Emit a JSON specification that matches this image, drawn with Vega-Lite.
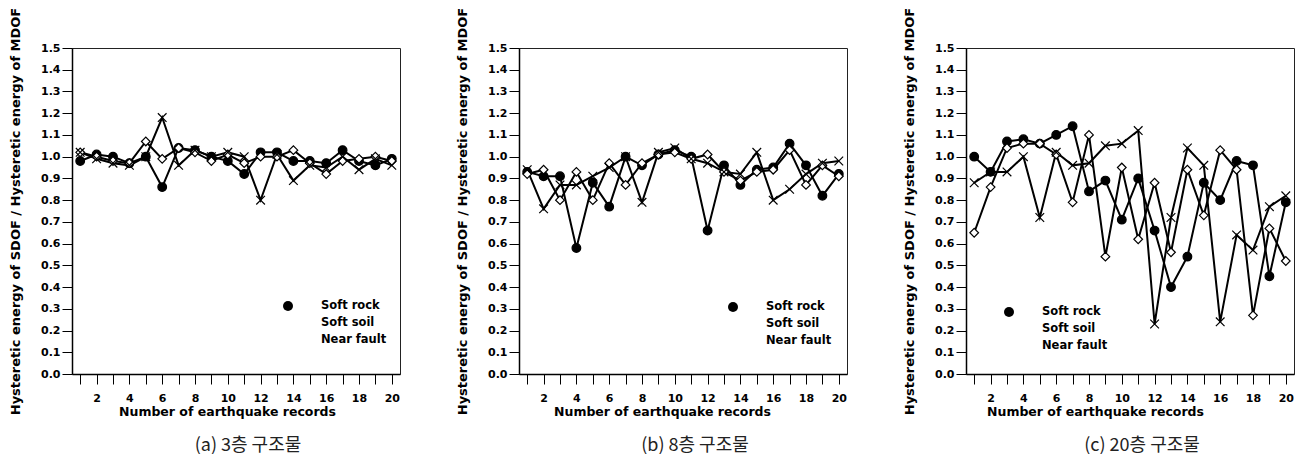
{
  "$schema": "https://vega.github.io/schema/vega-lite/v6.json",
  "padding": {"left": 9, "top": 6, "right": 2, "bottom": 0},
  "background": "white",
  "spacing": 55,
  "datasets": {
    "a": [
      {"record":1,"series":"Soft rock","ratio":0.98},{"record":2,"series":"Soft rock","ratio":1.01},{"record":3,"series":"Soft rock","ratio":1.00},{"record":4,"series":"Soft rock","ratio":0.97},{"record":5,"series":"Soft rock","ratio":1.00},
      {"record":6,"series":"Soft rock","ratio":0.86},{"record":7,"series":"Soft rock","ratio":1.04},{"record":8,"series":"Soft rock","ratio":1.03},{"record":9,"series":"Soft rock","ratio":1.00},{"record":10,"series":"Soft rock","ratio":0.98},
      {"record":11,"series":"Soft rock","ratio":0.92},{"record":12,"series":"Soft rock","ratio":1.02},{"record":13,"series":"Soft rock","ratio":1.02},{"record":14,"series":"Soft rock","ratio":0.98},{"record":15,"series":"Soft rock","ratio":0.98},
      {"record":16,"series":"Soft rock","ratio":0.97},{"record":17,"series":"Soft rock","ratio":1.03},{"record":18,"series":"Soft rock","ratio":0.98},{"record":19,"series":"Soft rock","ratio":0.96},{"record":20,"series":"Soft rock","ratio":0.99},
      {"record":1,"series":"Soft soil","ratio":1.02},{"record":2,"series":"Soft soil","ratio":1.00},{"record":3,"series":"Soft soil","ratio":0.98},{"record":4,"series":"Soft soil","ratio":0.97},{"record":5,"series":"Soft soil","ratio":1.07},
      {"record":6,"series":"Soft soil","ratio":0.99},{"record":7,"series":"Soft soil","ratio":1.04},{"record":8,"series":"Soft soil","ratio":1.02},{"record":9,"series":"Soft soil","ratio":0.98},{"record":10,"series":"Soft soil","ratio":1.01},
      {"record":11,"series":"Soft soil","ratio":0.97},{"record":12,"series":"Soft soil","ratio":1.00},{"record":13,"series":"Soft soil","ratio":1.00},{"record":14,"series":"Soft soil","ratio":1.03},{"record":15,"series":"Soft soil","ratio":0.97},
      {"record":16,"series":"Soft soil","ratio":0.92},{"record":17,"series":"Soft soil","ratio":0.98},{"record":18,"series":"Soft soil","ratio":0.99},{"record":19,"series":"Soft soil","ratio":1.00},{"record":20,"series":"Soft soil","ratio":0.98},
      {"record":1,"series":"Near fault","ratio":1.02},{"record":2,"series":"Near fault","ratio":0.99},{"record":3,"series":"Near fault","ratio":0.97},{"record":4,"series":"Near fault","ratio":0.96},{"record":5,"series":"Near fault","ratio":1.00},
      {"record":6,"series":"Near fault","ratio":1.18},{"record":7,"series":"Near fault","ratio":0.96},{"record":8,"series":"Near fault","ratio":1.03},{"record":9,"series":"Near fault","ratio":1.00},{"record":10,"series":"Near fault","ratio":1.02},
      {"record":11,"series":"Near fault","ratio":1.00},{"record":12,"series":"Near fault","ratio":0.80},{"record":13,"series":"Near fault","ratio":1.01},{"record":14,"series":"Near fault","ratio":0.89},{"record":15,"series":"Near fault","ratio":0.96},
      {"record":16,"series":"Near fault","ratio":0.95},{"record":17,"series":"Near fault","ratio":1.00},{"record":18,"series":"Near fault","ratio":0.94},{"record":19,"series":"Near fault","ratio":0.99},{"record":20,"series":"Near fault","ratio":0.96}
    ],
    "b": [
      {"record":1,"series":"Soft rock","ratio":0.93},{"record":2,"series":"Soft rock","ratio":0.91},{"record":3,"series":"Soft rock","ratio":0.91},{"record":4,"series":"Soft rock","ratio":0.58},{"record":5,"series":"Soft rock","ratio":0.88},
      {"record":6,"series":"Soft rock","ratio":0.77},{"record":7,"series":"Soft rock","ratio":1.00},{"record":8,"series":"Soft rock","ratio":0.96},{"record":9,"series":"Soft rock","ratio":1.01},{"record":10,"series":"Soft rock","ratio":1.03},
      {"record":11,"series":"Soft rock","ratio":1.00},{"record":12,"series":"Soft rock","ratio":0.66},{"record":13,"series":"Soft rock","ratio":0.96},{"record":14,"series":"Soft rock","ratio":0.87},{"record":15,"series":"Soft rock","ratio":0.94},
      {"record":16,"series":"Soft rock","ratio":0.95},{"record":17,"series":"Soft rock","ratio":1.06},{"record":18,"series":"Soft rock","ratio":0.96},{"record":19,"series":"Soft rock","ratio":0.82},{"record":20,"series":"Soft rock","ratio":0.92},
      {"record":1,"series":"Soft soil","ratio":0.92},{"record":2,"series":"Soft soil","ratio":0.94},{"record":3,"series":"Soft soil","ratio":0.80},{"record":4,"series":"Soft soil","ratio":0.93},{"record":5,"series":"Soft soil","ratio":0.80},
      {"record":6,"series":"Soft soil","ratio":0.97},{"record":7,"series":"Soft soil","ratio":0.87},{"record":8,"series":"Soft soil","ratio":0.97},{"record":9,"series":"Soft soil","ratio":1.01},{"record":10,"series":"Soft soil","ratio":1.02},
      {"record":11,"series":"Soft soil","ratio":0.99},{"record":12,"series":"Soft soil","ratio":1.01},{"record":13,"series":"Soft soil","ratio":0.93},{"record":14,"series":"Soft soil","ratio":0.89},{"record":15,"series":"Soft soil","ratio":0.93},
      {"record":16,"series":"Soft soil","ratio":0.94},{"record":17,"series":"Soft soil","ratio":1.03},{"record":18,"series":"Soft soil","ratio":0.87},{"record":19,"series":"Soft soil","ratio":0.96},{"record":20,"series":"Soft soil","ratio":0.91},
      {"record":1,"series":"Near fault","ratio":0.94},{"record":2,"series":"Near fault","ratio":0.76},{"record":3,"series":"Near fault","ratio":0.87},{"record":4,"series":"Near fault","ratio":0.87},{"record":5,"series":"Near fault","ratio":0.91},
      {"record":6,"series":"Near fault","ratio":0.95},{"record":7,"series":"Near fault","ratio":1.00},{"record":8,"series":"Near fault","ratio":0.79},{"record":9,"series":"Near fault","ratio":1.02},{"record":10,"series":"Near fault","ratio":1.04},
      {"record":11,"series":"Near fault","ratio":0.99},{"record":12,"series":"Near fault","ratio":0.97},{"record":13,"series":"Near fault","ratio":0.93},{"record":14,"series":"Near fault","ratio":0.92},{"record":15,"series":"Near fault","ratio":1.02},
      {"record":16,"series":"Near fault","ratio":0.80},{"record":17,"series":"Near fault","ratio":0.85},{"record":18,"series":"Near fault","ratio":0.92},{"record":19,"series":"Near fault","ratio":0.97},{"record":20,"series":"Near fault","ratio":0.98}
    ],
    "c": [
      {"record":1,"series":"Soft rock","ratio":1.00},{"record":2,"series":"Soft rock","ratio":0.93},{"record":3,"series":"Soft rock","ratio":1.07},{"record":4,"series":"Soft rock","ratio":1.08},{"record":5,"series":"Soft rock","ratio":1.06},
      {"record":6,"series":"Soft rock","ratio":1.10},{"record":7,"series":"Soft rock","ratio":1.14},{"record":8,"series":"Soft rock","ratio":0.84},{"record":9,"series":"Soft rock","ratio":0.89},{"record":10,"series":"Soft rock","ratio":0.71},
      {"record":11,"series":"Soft rock","ratio":0.90},{"record":12,"series":"Soft rock","ratio":0.66},{"record":13,"series":"Soft rock","ratio":0.40},{"record":14,"series":"Soft rock","ratio":0.54},{"record":15,"series":"Soft rock","ratio":0.88},
      {"record":16,"series":"Soft rock","ratio":0.80},{"record":17,"series":"Soft rock","ratio":0.98},{"record":18,"series":"Soft rock","ratio":0.96},{"record":19,"series":"Soft rock","ratio":0.45},{"record":20,"series":"Soft rock","ratio":0.79},
      {"record":1,"series":"Soft soil","ratio":0.65},{"record":2,"series":"Soft soil","ratio":0.86},{"record":3,"series":"Soft soil","ratio":1.04},{"record":4,"series":"Soft soil","ratio":1.06},{"record":5,"series":"Soft soil","ratio":1.06},
      {"record":6,"series":"Soft soil","ratio":1.01},{"record":7,"series":"Soft soil","ratio":0.79},{"record":8,"series":"Soft soil","ratio":1.10},{"record":9,"series":"Soft soil","ratio":0.54},{"record":10,"series":"Soft soil","ratio":0.95},
      {"record":11,"series":"Soft soil","ratio":0.62},{"record":12,"series":"Soft soil","ratio":0.88},{"record":13,"series":"Soft soil","ratio":0.56},{"record":14,"series":"Soft soil","ratio":0.94},{"record":15,"series":"Soft soil","ratio":0.73},
      {"record":16,"series":"Soft soil","ratio":1.03},{"record":17,"series":"Soft soil","ratio":0.94},{"record":18,"series":"Soft soil","ratio":0.27},{"record":19,"series":"Soft soil","ratio":0.67},{"record":20,"series":"Soft soil","ratio":0.52},
      {"record":1,"series":"Near fault","ratio":0.88},{"record":2,"series":"Near fault","ratio":0.93},{"record":3,"series":"Near fault","ratio":0.93},{"record":4,"series":"Near fault","ratio":1.00},{"record":5,"series":"Near fault","ratio":0.72},
      {"record":6,"series":"Near fault","ratio":1.02},{"record":7,"series":"Near fault","ratio":0.96},{"record":8,"series":"Near fault","ratio":0.97},{"record":9,"series":"Near fault","ratio":1.05},{"record":10,"series":"Near fault","ratio":1.06},
      {"record":11,"series":"Near fault","ratio":1.12},{"record":12,"series":"Near fault","ratio":0.23},{"record":13,"series":"Near fault","ratio":0.72},{"record":14,"series":"Near fault","ratio":1.04},{"record":15,"series":"Near fault","ratio":0.96},
      {"record":16,"series":"Near fault","ratio":0.24},{"record":17,"series":"Near fault","ratio":0.64},{"record":18,"series":"Near fault","ratio":0.57},{"record":19,"series":"Near fault","ratio":0.77},{"record":20,"series":"Near fault","ratio":0.82}
    ]
  },
  "hconcat": [
    {
      "width": 328, "height": 326,
      "data": {"name": "a"},
      "title": {"text": "(a) 3층 구조물", "orient": "bottom", "anchor": "middle", "dx": 12, "offset": 19},
      "encoding": {
        "x": {"field": "record", "type": "quantitative", "scale": {"domain": [0.5, 20.5], "nice": false, "zero": false},
              "axis": {"values": [1,2,3,4,5,6,7,8,9,10,11,12,13,14,15,16,17,18,19,20], "labelOverlap": false, "labelExpr": "datum.value % 2 === 0 ? datum.label : ''", "title": "Number of earthquake records", "titleX": 155,
                       "encode": {"ticks": {"update": {"y2": {"signal": "datum.value % 2 === 0 ? 10 : 6"}}}}}},
        "y": {"field": "ratio", "type": "quantitative", "scale": {"domain": [0, 1.5], "nice": false, "zero": false},
              "axis": {"values": [0,0.1,0.2,0.3,0.4,0.5,0.6,0.7,0.8,0.9,1.0,1.1,1.2,1.3,1.4,1.5], "labelOverlap": false, "format": ".1f", "title": "Hysteretic energy of SDOF / Hysteretic energy of MDOF"}}
      },
      "layer": [
        {"mark": {"type": "line", "color": "black", "strokeWidth": 2},
         "encoding": {"detail": {"field": "series"}}},
        {"mark": {"type": "point", "filled": true, "stroke": "black", "strokeWidth": 1.2, "opacity": 1, "size": 75},
         "encoding": {
           "shape": {"field": "series", "type": "nominal", "scale": {"domain": ["Soft rock", "Soft soil", "Near fault"], "range": ["circle", "diamond", "M-1,-1L1,1M-1,1L1,-1"]},
                     "legend": {"title": null, "orient": "none", "legendX": 210, "legendY": 252}},
           "fill": {"field": "series", "type": "nominal", "scale": {"domain": ["Soft rock", "Soft soil", "Near fault"], "range": ["black", "white", "transparent"]}}
         }}
      ]
    },
    {
      "width": 328, "height": 326,
      "data": {"name": "b"},
      "title": {"text": "(b) 8층 구조물", "orient": "bottom", "anchor": "middle", "dx": 12, "offset": 19},
      "encoding": {
        "x": {"field": "record", "type": "quantitative", "scale": {"domain": [0.5, 20.5], "nice": false, "zero": false},
              "axis": {"values": [1,2,3,4,5,6,7,8,9,10,11,12,13,14,15,16,17,18,19,20], "labelOverlap": false, "labelExpr": "datum.value % 2 === 0 ? datum.label : ''", "title": "Number of earthquake records", "titleX": 143,
                       "encode": {"ticks": {"update": {"y2": {"signal": "datum.value % 2 === 0 ? 10 : 6"}}}}}},
        "y": {"field": "ratio", "type": "quantitative", "scale": {"domain": [0, 1.5], "nice": false, "zero": false},
              "axis": {"values": [0,0.1,0.2,0.3,0.4,0.5,0.6,0.7,0.8,0.9,1.0,1.1,1.2,1.3,1.4,1.5], "labelOverlap": false, "format": ".1f", "title": "Hysteretic energy of SDOF / Hysteretic energy of MDOF"}}
      },
      "layer": [
        {"mark": {"type": "line", "color": "black", "strokeWidth": 2},
         "encoding": {"detail": {"field": "series"}}},
        {"mark": {"type": "point", "filled": true, "stroke": "black", "strokeWidth": 1.2, "opacity": 1, "size": 75},
         "encoding": {
           "shape": {"field": "series", "type": "nominal", "scale": {"domain": ["Soft rock", "Soft soil", "Near fault"], "range": ["circle", "diamond", "M-1,-1L1,1M-1,1L1,-1"]},
                     "legend": {"title": null, "orient": "none", "legendX": 208, "legendY": 253}},
           "fill": {"field": "series", "type": "nominal", "scale": {"domain": ["Soft rock", "Soft soil", "Near fault"], "range": ["black", "white", "transparent"]}}
         }}
      ]
    },
    {
      "width": 328, "height": 326,
      "data": {"name": "c"},
      "title": {"text": "(c) 20층 구조물", "orient": "bottom", "anchor": "middle", "dx": 12, "offset": 19},
      "encoding": {
        "x": {"field": "record", "type": "quantitative", "scale": {"domain": [0.5, 20.5], "nice": false, "zero": false},
              "axis": {"values": [1,2,3,4,5,6,7,8,9,10,11,12,13,14,15,16,17,18,19,20], "labelOverlap": false, "labelExpr": "datum.value % 2 === 0 ? datum.label : ''", "title": "Number of earthquake records", "titleX": 129,
                       "encode": {"ticks": {"update": {"y2": {"signal": "datum.value % 2 === 0 ? 10 : 6"}}}}}},
        "y": {"field": "ratio", "type": "quantitative", "scale": {"domain": [0, 1.5], "nice": false, "zero": false},
              "axis": {"values": [0,0.1,0.2,0.3,0.4,0.5,0.6,0.7,0.8,0.9,1.0,1.1,1.2,1.3,1.4,1.5], "labelOverlap": false, "format": ".1f", "title": "Hysteretic energy of SDOF / Hysteretic energy of MDOF"}}
      },
      "layer": [
        {"mark": {"type": "line", "color": "black", "strokeWidth": 2},
         "encoding": {"detail": {"field": "series"}}},
        {"mark": {"type": "point", "filled": true, "stroke": "black", "strokeWidth": 1.2, "opacity": 1, "size": 75},
         "encoding": {
           "shape": {"field": "series", "type": "nominal", "scale": {"domain": ["Soft rock", "Soft soil", "Near fault"], "range": ["circle", "diamond", "M-1,-1L1,1M-1,1L1,-1"]},
                     "legend": {"title": null, "orient": "none", "legendX": 37, "legendY": 258}},
           "fill": {"field": "series", "type": "nominal", "scale": {"domain": ["Soft rock", "Soft soil", "Near fault"], "range": ["black", "white", "transparent"]}}
         }}
      ]
    }
  ],
  "resolve": {
    "scale": {"shape": "independent", "fill": "independent"},
    "legend": {"shape": "independent", "fill": "independent"}
  },
  "config": {
    "font": "DejaVu Sans",
    "view": {"stroke": "#222", "strokeWidth": 1},
    "axis": {
      "grid": false, "labelOverlap": false,
      "labelFont": "DejaVu Sans", "labelFontWeight": "bold", "labelFontSize": 11, "labelColor": "black",
      "titleFont": "DejaVu Sans", "titleFontWeight": "bold", "titleColor": "black",
      "domainColor": "black", "domainWidth": 1.5, "tickColor": "black", "tickWidth": 1
    },
    "axisX": {"tickSize": 10, "labelPadding": 8, "titleFontSize": 12.5, "titlePadding": 2, "labelAngle": 0},
    "axisY": {"tickSize": 10, "labelPadding": 2, "titleFontSize": 13, "titlePadding": 18},
    "legend": {
      "padding": 0, "offset": 0, "symbolSize": 100, "labelOffset": 27, "rowPadding": 1,
      "symbolStrokeColor": "black", "symbolStrokeWidth": 1.2,
      "labelFont": "DejaVu Sans", "labelFontWeight": "bold", "labelFontSize": 11.5, "labelColor": "black"
    },
    "title": {"font": "Noto Sans CJK KR", "fontSize": 18, "fontWeight": "normal", "color": "#222"}
  }
}
